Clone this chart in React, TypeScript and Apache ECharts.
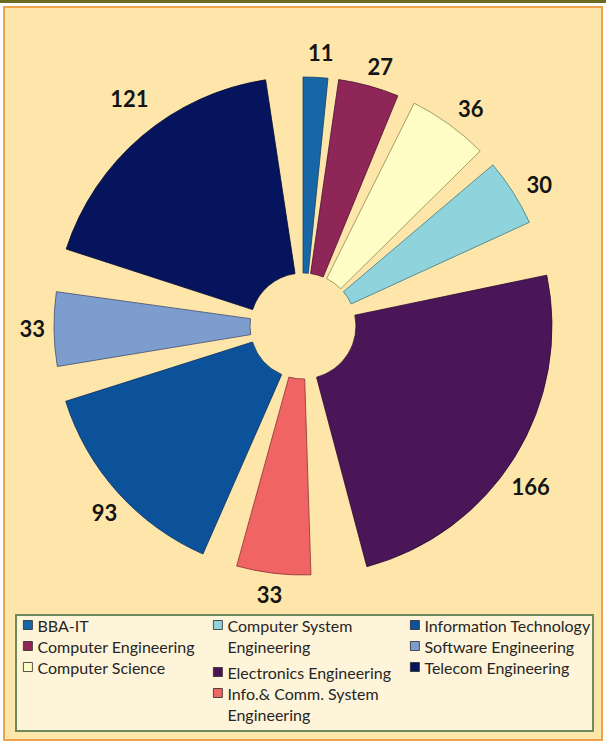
import React, { useEffect, useRef } from "react";
import * as echarts from "echarts";

// ---- data ----
const categories = [
  "BBA-IT",
  "Computer Engineering",
  "Computer Science",
  "Computer System Engineering",
  "Electronics Engineering",
  "Info.& Comm. System Engineering",
  "Information Technology",
  "Software Engineering",
  "Telecom Engineering",
];
const counts = [11, 27, 36, 30, 166, 33, 93, 33, 121];

// ---- styles ----
const sliceColors = [
  "#1767A6",
  "#8E2657",
  "#FFFDC6",
  "#8FD3DD",
  "#4A1657",
  "#F06464",
  "#0B529A",
  "#7E9DCF",
  "#05145C",
];
const sliceBorders = [
  "#1a3f66",
  "#4a1230",
  "#8c8a4c",
  "#3f7b82",
  "#2a0b33",
  "#8a3434",
  "#0a3060",
  "#3c4d6e",
  "#030a30",
];
// two-line legend entries; the leading blank line keeps the marker beside the first line
const legendWrap: Record<string, string> = {
  "Computer System Engineering": "\nComputer System\nEngineering",
  "Info.& Comm. System Engineering": "\nInfo.& Comm. System\nEngineering",
};
const labelNudges: Record<string, [number, number]> = {
  "BBA-IT": [-13, -15],
  "Computer Engineering": [-9, -10],
  "Computer Science": [-2, -8],
  "Computer System Engineering": [0, -2],
  "Electronics Engineering": [-17, 24],
  "Info.& Comm. System Engineering": [15, 11],
  "Information Technology": [12, 13],
  "Software Engineering": [6, -1],
  "Telecom Engineering": [18, -30],
};
// each slice is drawn at 80% of its angular share; the rest is empty space between slices
const GAP_SHARE = 0.125;

export default function App() {
  const ref = useRef<HTMLDivElement>(null);
  useEffect(() => {
    const chart = echarts.init(ref.current!, null, { renderer: "svg" });
    const n = counts.length;
    const pieData: any[] = [];
    counts.forEach((v, i) => {
      pieData.push({
        name: categories[i],
        value: v,
        itemStyle: { color: sliceColors[i], borderColor: sliceBorders[i], borderWidth: 0.8 },
      });
      pieData.push({
        name: "__gap" + i,
        value: GAP_SHARE * (v + counts[(i + 1) % n]),
        itemStyle: { color: "rgba(0,0,0,0)", borderWidth: 0 },
        label: { show: false },
        labelLine: { show: false },
        emphasis: { disabled: true },
      });
    });

    const textStyle = { fontFamily: "Lato", fontSize: 16, color: "#262626", lineHeight: 21 };
    const legendBase: any = {
      orient: "vertical",
      icon: "rect",
      itemWidth: 9,
      itemHeight: 9,
      itemGap: 0,
      padding: 0,
      selectedMode: false,
      textStyle,
      itemStyle: { borderColor: "#2a2a2a", borderWidth: 0.8 },
      formatter: (name: string) => legendWrap[name] || name,
    };

    chart.setOption({
      animation: false,
      backgroundColor: "#ffffff",
      graphic: [
        { type: "rect", shape: { x: 0, y: 0, width: 606, height: 3 }, style: { fill: "#6a6a22" }, z: -10 },
        {
          type: "rect",
          shape: { x: 4, y: 7, width: 598, height: 733 },
          style: { fill: "#FEE6AB", stroke: "#F1A24C", lineWidth: 2 },
          z: -10,
        },
        {
          type: "rect",
          shape: { x: 16, y: 615, width: 577, height: 116 },
          style: { fill: "#FEF4D9", stroke: "#6E8A5C", lineWidth: 2 },
          z: -9,
        },
      ],
      legend: [
        { ...legendBase, left: 23, top: 614.5, data: categories.slice(0, 3) },
        { ...legendBase, left: 213, top: 625 - 31.5, data: [categories[3]] },
        { ...legendBase, left: 213, top: 672 - 10.5, data: [categories[4]] },
        { ...legendBase, left: 213, top: 693 - 31.5, data: [categories[5]] },
        { ...legendBase, left: 410, top: 614.5, data: categories.slice(6, 9) },
      ],
      series: [
        {
          type: "pie",
          center: [303, 326],
          radius: [53, 249],
          startAngle: 90,
          clockwise: true,
          avoidLabelOverlap: false,
          silent: true,
          label: {
            show: true,
            position: "outside",
            formatter: "{c}",
            fontFamily: "Lato",
            fontWeight: "bold",
            fontSize: 22,
            color: "#141414",
          },
          labelLine: { show: false, length: 10, length2: 0 },
          labelLayout: (params: any) => {
            const item = pieData[params.dataIndex];
            const nudge = item && labelNudges[item.name];
            return nudge ? { dx: nudge[0], dy: nudge[1] } : {};
          },
          data: pieData,
        },
      ],
    });
    return () => chart.dispose();
  }, []);
  return <div ref={ref} style={{ position: "fixed", left: 0, top: 0, width: 606, height: 742 }} />;
}
